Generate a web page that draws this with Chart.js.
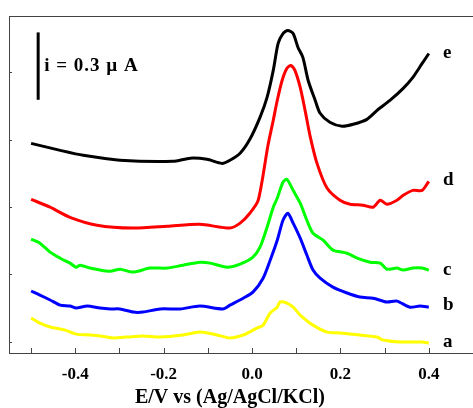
<!DOCTYPE html>
<html><head><meta charset="utf-8">
<script src="https://cdn.jsdelivr.net/npm/chart.js@4/dist/chart.umd.min.js"></script>
<style>html,body{margin:0;padding:0;background:#fff}</style>
</head><body>
<canvas id="c" width="473" height="408"></canvas>
<script>
// Potential (V vs Ag/AgCl/KCl) tick positions and labelled ticks
const potentialTicks = [-0.5,-0.4,-0.3,-0.2,-0.1,0.0,0.1,0.2,0.3,0.4];
const potentialLabels = ['', '-0.4', '', '-0.2', '', '0.0', '', '0.2', '', '0.4'];
const axisTitle = 'E/V vs (Ag/AgCl/KCl)';
// Current axis (µA, offset) – unlabelled tick marks
const currentTicks = [0.05,0.35,0.65,0.95,1.25];

const curveNames = ['a','b','c','d','e'];
const curveColors = ['#ffff00','#0000ff','#00ff00','#ff0000','#000000'];

// curve a (yellow)
const aX = [-0.500,-0.480,-0.457,-0.423,-0.398,-0.367,-0.344,-0.314,-0.283,-0.247,-0.208,-0.156,-0.118,-0.079,-0.050,-0.020,0.011,0.025,0.041,0.057,0.063,0.079,0.093,0.109,0.138,0.170,0.199,0.244,0.283,0.296,0.335,0.364,0.385,0.400];
const aY = [0.156,0.133,0.116,0.102,0.084,0.080,0.076,0.067,0.071,0.076,0.071,0.080,0.093,0.080,0.067,0.080,0.111,0.124,0.178,0.204,0.227,0.222,0.204,0.169,0.124,0.093,0.089,0.080,0.071,0.058,0.049,0.049,0.049,0.044];
// curve b (blue)
const bX = [-0.500,-0.480,-0.457,-0.434,-0.412,-0.398,-0.373,-0.344,-0.321,-0.299,-0.269,-0.247,-0.208,-0.163,-0.118,-0.066,-0.050,-0.020,0.002,0.025,0.041,0.057,0.070,0.081,0.093,0.109,0.124,0.138,0.154,0.183,0.215,0.244,0.274,0.305,0.328,0.357,0.380,0.400];
const bY = [0.276,0.258,0.236,0.213,0.209,0.200,0.209,0.200,0.196,0.196,0.182,0.182,0.196,0.196,0.209,0.196,0.213,0.244,0.271,0.333,0.413,0.502,0.591,0.622,0.578,0.511,0.436,0.369,0.333,0.293,0.267,0.249,0.244,0.227,0.231,0.204,0.209,0.204];
// curve c (green)
const cX = [-0.500,-0.480,-0.457,-0.434,-0.412,-0.398,-0.389,-0.367,-0.344,-0.321,-0.299,-0.269,-0.231,-0.192,-0.156,-0.118,-0.095,-0.057,-0.027,0.002,0.018,0.034,0.048,0.057,0.070,0.079,0.093,0.109,0.124,0.138,0.161,0.183,0.215,0.238,0.267,0.290,0.305,0.328,0.342,0.364,0.385,0.400];
const cY = [0.507,0.489,0.449,0.422,0.400,0.382,0.391,0.378,0.369,0.364,0.373,0.360,0.378,0.378,0.391,0.404,0.400,0.382,0.396,0.427,0.471,0.560,0.649,0.689,0.760,0.773,0.724,0.667,0.591,0.533,0.502,0.458,0.444,0.422,0.404,0.400,0.373,0.378,0.369,0.378,0.378,0.369];
// curve d (red)
const dX = [-0.500,-0.457,-0.412,-0.351,-0.269,-0.192,-0.118,-0.050,-0.027,-0.005,0.014,0.036,0.048,0.057,0.068,0.079,0.088,0.097,0.109,0.120,0.131,0.147,0.170,0.199,0.222,0.251,0.274,0.290,0.305,0.328,0.342,0.364,0.385,0.400];
const dY = [0.684,0.649,0.604,0.569,0.556,0.564,0.573,0.556,0.578,0.622,0.680,0.924,1.036,1.124,1.213,1.267,1.280,1.258,1.182,1.080,0.969,0.844,0.733,0.680,0.662,0.658,0.649,0.680,0.662,0.680,0.702,0.724,0.724,0.764];
// curve e (black)
const eX = [-0.500,-0.434,-0.382,-0.299,-0.179,-0.140,-0.102,-0.068,-0.050,-0.027,-0.005,0.018,0.034,0.048,0.059,0.070,0.081,0.093,0.104,0.115,0.127,0.143,0.154,0.176,0.204,0.229,0.260,0.283,0.312,0.342,0.364,0.385,0.400];
const eY = [0.933,0.902,0.880,0.858,0.853,0.867,0.862,0.844,0.858,0.889,0.951,1.049,1.138,1.258,1.378,1.422,1.436,1.422,1.360,1.316,1.213,1.124,1.067,1.027,1.009,1.018,1.040,1.080,1.124,1.178,1.227,1.289,1.333];

const curveX = [aX,bX,cX,dX,eX];
const curveY = [aY,bY,cY,dY,eY];
// where the curve letters sit (current value)
const nameX = 0.432;
const nameY = [0.049,0.213,0.369,0.769,1.333];
// scale bar
const barX = -0.484, barTop = 1.427, barSpan = 0.3, barText = 'i = 0.3 \u00b5 A';

const serif = '"Liberation Serif","Times New Roman",serif';

const datasets = curveX.map((xs,i)=>({
  label: curveNames[i],
  data: xs.map((x,j)=>({x, y: curveY[i][j]})),
  borderColor: curveColors[i],
  borderWidth: 3,
  pointRadius: 0,
  tension: 0.25,
  fill: false
})).reverse();

const deco = {
  id:'deco',
  afterDraw(chart){
    const ctx = chart.ctx, xs = chart.scales.x, ys = chart.scales.y, ca = chart.chartArea;
    ctx.save();
    ctx.strokeStyle = '#444'; ctx.lineWidth = 1;
    ctx.beginPath(); ctx.moveTo(ca.left, ca.top+0.5); ctx.lineTo(chart.width, ca.top+0.5); ctx.stroke();
    potentialTicks.forEach(v=>{
      const p = Math.round(xs.getPixelForValue(v))+0.5;
      ctx.beginPath(); ctx.moveTo(p, ca.bottom); ctx.lineTo(p, ca.bottom-5); ctx.stroke();
    });
    currentTicks.forEach(v=>{
      const p = Math.round(ys.getPixelForValue(v))+0.5;
      ctx.beginPath(); ctx.moveTo(ca.left, p); ctx.lineTo(ca.left+3, p); ctx.stroke();
    });
    // scale bar
    const bx = xs.getPixelForValue(barX);
    const by1 = ys.getPixelForValue(barTop), by2 = ys.getPixelForValue(barTop-barSpan);
    ctx.strokeStyle = '#000'; ctx.lineWidth = 3;
    ctx.beginPath(); ctx.moveTo(bx, by1); ctx.lineTo(bx, by2); ctx.stroke();
    ctx.fillStyle = '#000';
    ctx.font = 'bold 19px ' + serif;
    ctx.textBaseline = 'middle'; ctx.textAlign = 'left';
    ctx.letterSpacing = '1px';
    ctx.fillText(barText, bx+6, (by1+by2)/2);
    ctx.letterSpacing = '0px';
    // curve names
    ctx.font = 'bold 19px ' + serif;
    nameY.forEach((v,i)=>{
      ctx.fillText(curveNames[i], xs.getPixelForValue(nameX), ys.getPixelForValue(v));
    });
    // axis title
    ctx.font = 'bold 20px ' + serif;
    ctx.textAlign = 'center';
    ctx.fillText(axisTitle, xs.getPixelForValue(-0.05), ca.bottom + 45);
    ctx.restore();
  }
};

new Chart(document.getElementById('c'), {
  type:'line',
  data:{datasets},
  options:{
    responsive:false,
    animation:false,
    layout:{padding:{left:9, top:16, right:0, bottom:0}},
    plugins:{legend:{display:false}, tooltip:{enabled:false}},
    scales:{
      x:{
        type:'linear', min:-0.55, max:0.5,
        afterBuildTicks(s){ s.ticks = potentialTicks.map(v=>({value:v})); },
        afterFit(s){ s.height = 55; },
        ticks:{
          autoSkip:false, maxRotation:0, padding:11, color:'#000',
          font:{family:serif, size:17, weight:'bold'},
          callback:(v,i)=>potentialLabels[i]
        },
        grid:{display:false, drawTicks:false},
        border:{display:true, color:'#444', width:1}
      },
      y:{
        type:'linear', min:0, max:1.5,
        afterBuildTicks(s){ s.ticks = currentTicks.map(v=>({value:v})); },
        ticks:{display:false},
        grid:{display:false, drawTicks:false},
        border:{display:true, color:'#444', width:1}
      }
    }
  },
  plugins:[deco]
});
</script>
</body></html>
